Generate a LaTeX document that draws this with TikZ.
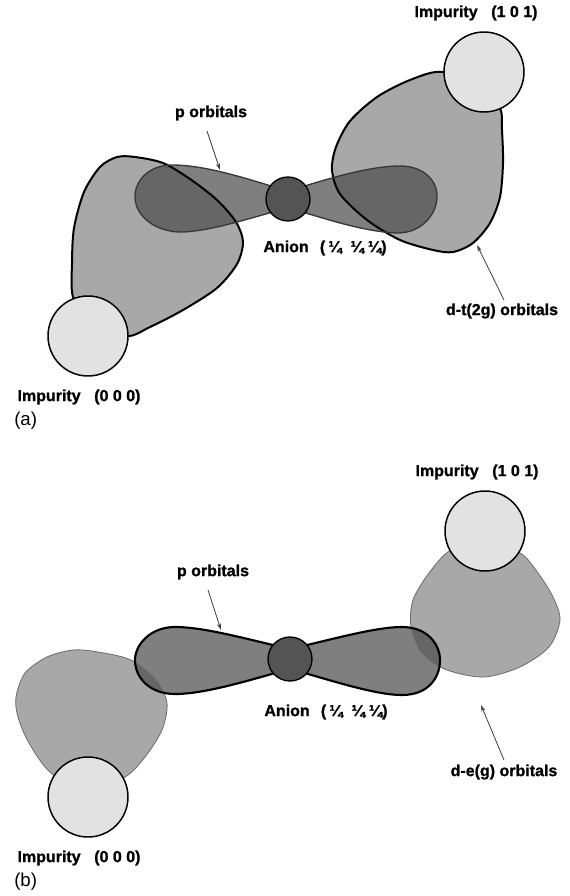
\documentclass[tikz,border=0pt]{standalone}
\usepackage{fontspec}
\setmainfont{Liberation Sans}
\newfontface\heavyface{Liberation Sans Bold}[FakeBold=1.1]
\usetikzlibrary{arrows.meta}
\definecolor{dlobe}{gray}{0.66}
\definecolor{plobe}{gray}{0.29}
\definecolor{ballfill}{gray}{0.885}
\definecolor{anionfill}{gray}{0.33}
\definecolor{pedge}{gray}{0.22}
\definecolor{dedgeb}{gray}{0.42}
\definecolor{ptrcol}{gray}{0.25}

% outlines of the orbital lobes (1 unit = 1 px)
\def\dLeftA{plot[smooth cycle] coordinates {(73,297) (72,263) (74,228) (84,192) (100,167) (117,157) (135,157) (163,163) (190,179) (217,200) (236,222) (243,242) (237,264) (217,288) (183,310) (150,327) (126,336) (90,320)}}
\def\dRightA{plot[smooth cycle] coordinates {(443,72) (410,80) (377,97) (350,121) (336,147) (332,170) (340,194) (367,220) (400,240) (433,250) (453,252) (473,243) (490,223) (500,197) (503,163) (502,130) (500,108) (482,92)}}
\def\pLeftA{(284,190) .. controls (245,178) and (205,165) .. (172,165) .. controls (148,165) and (134,182) .. (135,198) .. controls (136,218) and (158,233) .. (184,232) .. controls (215,230) and (250,218) .. (284,209) -- cycle}
\def\pRightA{(292,190) .. controls (330,178) and (370,166) .. (400,166) .. controls (425,166) and (438,182) .. (437,198) .. controls (436,216) and (420,233) .. (398,233) .. controls (365,232) and (330,220) .. (292,209) -- cycle}
\def\dLeftB{plot[smooth cycle] coordinates {(51,773) (29,743) (18,717) (16,697) (25,673) (47,657) (73,650) (98,652) (131,660) (156,680) (167,703) (162,730) (145,757) (125,777) (88,790)}}
\def\dRightB{plot[smooth cycle] coordinates {(451,550) (429,573) (413,600) (411,627) (422,653) (447,670) (484,677) (520,667) (549,647) (560,620) (553,597) (538,573) (520,553) (485,545)}}
\def\pLeftB{(286,648) .. controls (250,640) and (205,627) .. (175,627) .. controls (150,627) and (135,645) .. (135,660) .. controls (135,678) and (150,694) .. (175,694) .. controls (205,694) and (250,680) .. (286,670) -- cycle}
\def\pRightB{(294,648) .. controls (330,640) and (375,627) .. (402,627) .. controls (428,627) and (440,645) .. (440,660) .. controls (440,678) and (428,695) .. (402,695) .. controls (375,695) and (330,680) .. (294,670) -- cycle}

\begin{document}
\begin{tikzpicture}[x=0.75pt,y=-0.75pt,
  lbl/.style={font=\heavyface\fontsize{12}{14}\selectfont, inner sep=0pt},
  tag/.style={font=\fontsize{14}{17}\selectfont, inner sep=0pt, anchor=west},
  impurity/.style={circle, draw=black, line width=1.1pt, fill=ballfill, minimum size=60pt, inner sep=0pt},
  anion/.style={circle, draw=black, line width=1pt, fill=anionfill, minimum size=33pt, inner sep=0pt},
  dfillsty/.style={fill=dlobe},
  pfillsty/.style={fill=plobe, fill opacity=0.7},
  dedgeA/.style={draw=black, line width=1.5pt},
  pedgeA/.style={draw=pedge, line width=1pt},
  pedgeB/.style={draw=black, line width=1.6pt},
  dedgeB/.style={draw=dedgeb, line width=0.6pt},
  ptr/.style={draw=ptrcol, line width=0.6pt, -{Stealth[length=5pt,width=3pt]}}
]
\useasboundingbox (0,0) rectangle (569,896);
\fill[white] (0,0) rectangle (569,896);

% ---------------- panel (a): t2g overlap ----------------
\path[dfillsty] \dLeftA;
\path[dfillsty] \dRightA;
\path[pfillsty] \pLeftA;
\path[pfillsty] \pRightA;
\path[dedgeA] \dLeftA;
\path[dedgeA] \dRightA;
\path[pedgeA] \pLeftA;
\path[pedgeA] \pRightA;

\node[impurity] (impHiA) at (484,72) {};
\node[impurity] (impLoA) at (88,336) {};
\node[anion] (anA) at (288,199) {};

\node[lbl] (impHiLabA) at (476,13) {Impurity\hspace{0.85em}(1 0 1)};
\node[lbl] (impLoLabA) at (79,397) {Impurity\hspace{0.85em}(0 0 0)};
\node[lbl] (anLabA) at (325,248) {Anion\hspace{0.7em}(\hspace{0.2em}¼\hspace{0.55em}¼\hspace{0.25em}¼)};
\node[lbl] (pLabA) at (211,113) {p orbitals};
\node[lbl] (dLabA) at (502,311) {d-t(2g) orbitals};
\node[tag] (tagA) at (14,421) {(a)};

\coordinate (pFromA) at (207,131);
\coordinate (pTipA) at (220,170);
\coordinate (dFromA) at (504,300);
\coordinate (dTipA) at (477,245);
\draw[ptr] (pFromA) -- (pTipA);
\draw[ptr] (dFromA) -- (dTipA);

% ---------------- panel (b): eg overlap ----------------
\path[dfillsty] \dLeftB;
\path[dfillsty] \dRightB;
\path[pfillsty] \pLeftB;
\path[pfillsty] \pRightB;
\path[dedgeB] \dLeftB;
\path[dedgeB] \dRightB;
\path[pedgeB] \pLeftB;
\path[pedgeB] \pRightB;

\node[impurity] (impHiB) at (485,531) {};
\node[impurity] (impLoB) at (88,797) {};
\node[anion] (anB) at (290,659) {};

\node[lbl] (impHiLabB) at (477,472) {Impurity\hspace{0.85em}(1 0 1)};
\node[lbl] (impLoLabB) at (79,858) {Impurity\hspace{0.85em}(0 0 0)};
\node[lbl] (anLabB) at (326,712) {Anion\hspace{0.7em}(\hspace{0.2em}¼\hspace{0.55em}¼\hspace{0.25em}¼)};
\node[lbl] (pLabB) at (213,572) {p orbitals};
\node[lbl] (dLabB) at (504,772) {d-e(g) orbitals};
\node[tag] (tagB) at (14,882) {(b)};

\coordinate (pFromB) at (208,590);
\coordinate (pTipB) at (221,630);
\coordinate (dFromB) at (504,760);
\coordinate (dTipB) at (481,705);
\draw[ptr] (pFromB) -- (pTipB);
\draw[ptr] (dFromB) -- (dTipB);
\end{tikzpicture}
\end{document}
